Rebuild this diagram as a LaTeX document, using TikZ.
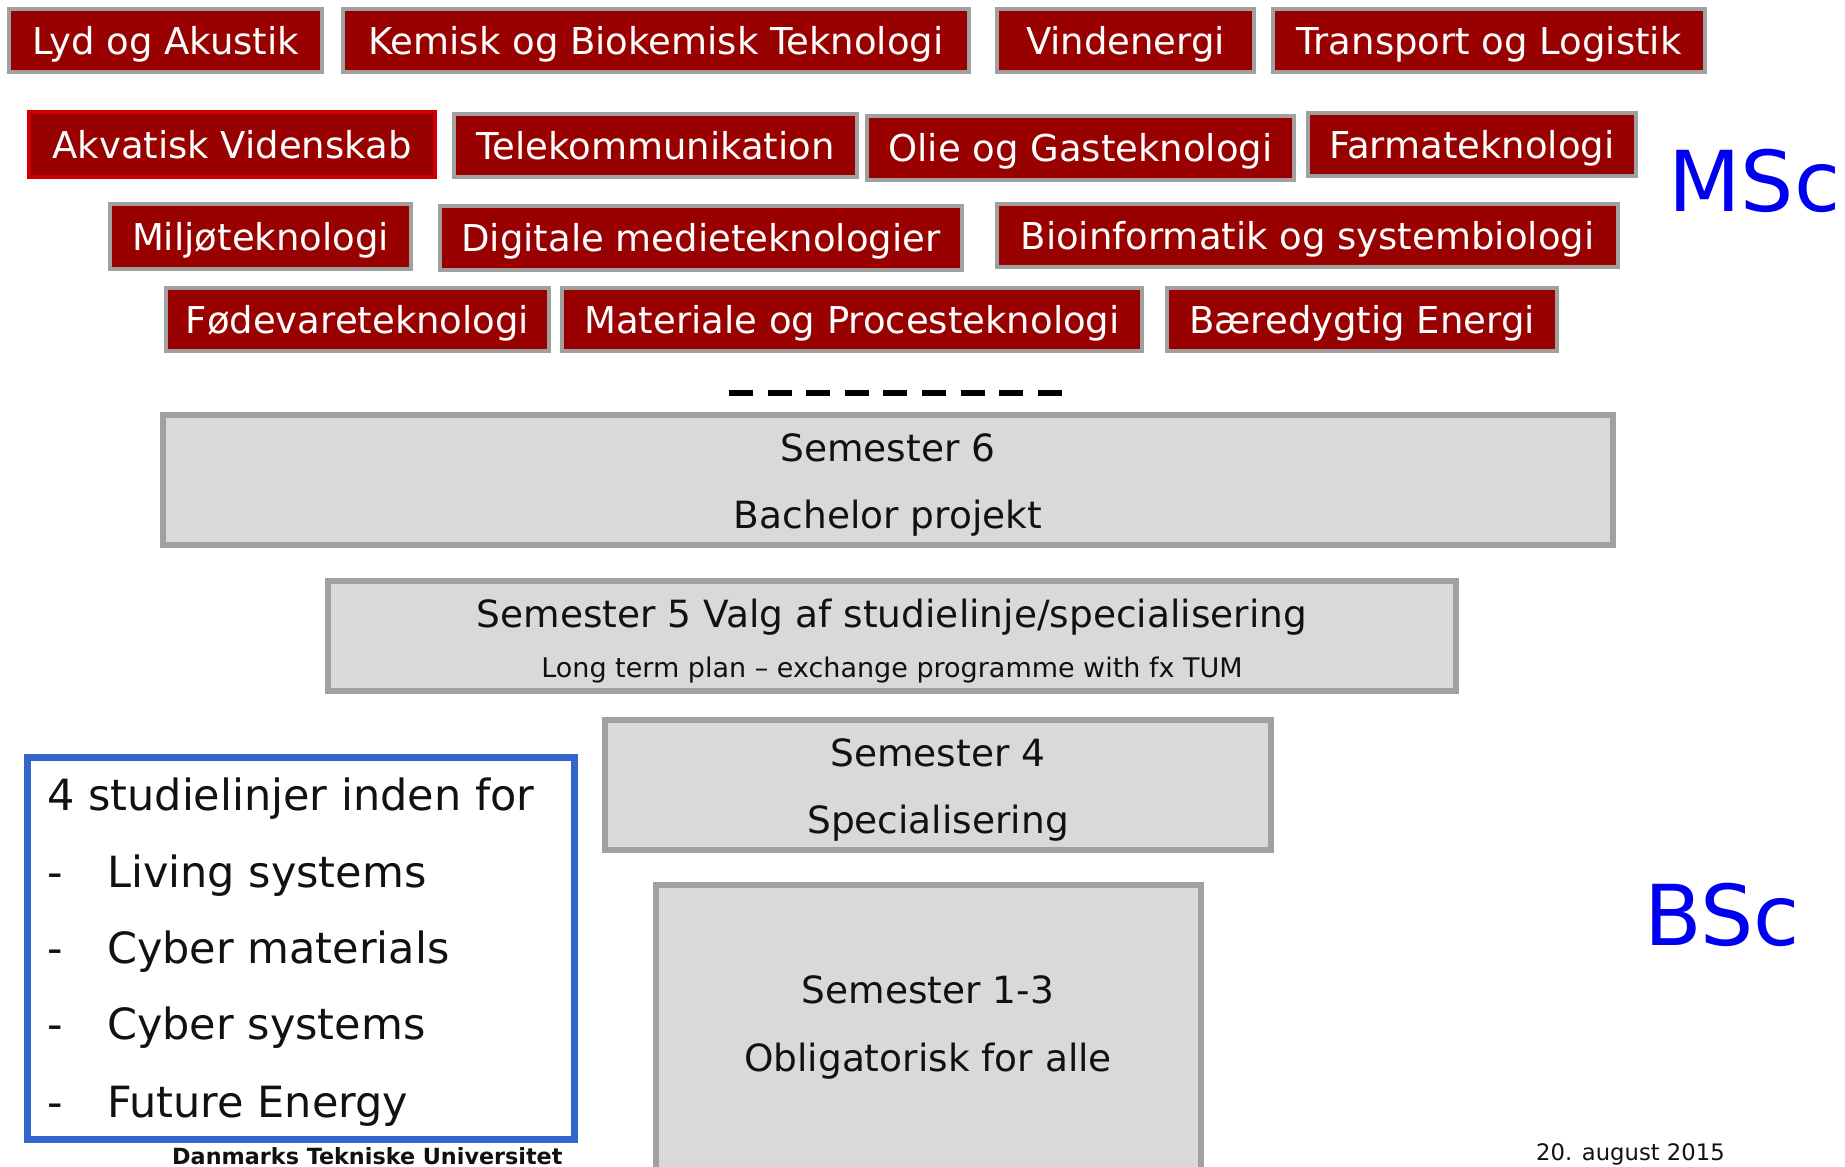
\documentclass[tikz,border=0pt]{standalone}
\usepackage{fontspec}
\setmainfont{DejaVu Sans}
\definecolor{dtured}{HTML}{990000}
\definecolor{akvared}{HTML}{CC0000}
\definecolor{boxgray}{HTML}{A0A0A0}
\definecolor{semfill}{HTML}{D9D9D9}
\definecolor{bluebd}{HTML}{3366CC}
\definecolor{degblue}{HTML}{0000F0}
\definecolor{inkdark}{HTML}{111111}
\tikzset{
  redbox/.style={draw=boxgray, line width=4pt, fill=dtured, text=white,
    font=\fontsize{37}{40}\selectfont, text height=27pt, text depth=0pt, inner sep=0pt},
  akvabox/.style={redbox, draw=akvared},
  sembox/.style={draw=boxgray, line width=6pt, fill=semfill, inner sep=0pt},
  listbox/.style={draw=bluebd, line width=7pt, fill=white, inner sep=0pt},
  semtext/.style={text=inkdark, font=\fontsize{37.5}{40}\selectfont, text height=27pt, text depth=0pt, inner sep=0pt},
  semsmall/.style={text=inkdark, font=\fontsize{27}{30}\selectfont, text height=19.7pt, text depth=0pt, inner sep=0pt},
  listtext/.style={text=inkdark, font=\fontsize{43}{46}\selectfont, anchor=base west, inner sep=0pt},
  degree/.style={text=degblue, font=\fontsize{84}{90}\selectfont, anchor=base west, inner sep=0pt},
  foot/.style={text=inkdark, anchor=base west, inner sep=0pt},
  dashline/.style={draw=black, line width=6pt, dash pattern=on 24pt off 14.6pt}
}
% [line width]{style}{name}{x1}{y1}{x2}{y2}{text}
\newcommand\placebox[8][4]{%
  \node[#2, minimum width={#6-#4-#1}, minimum height={#7-#5-#1}] (#3)
    at ({(#4+#6)/2},{(#5+#7)/2}) {#8};}
\begin{document}
\begin{tikzpicture}[x=1pt, y=-1pt]
\useasboundingbox (0,0) rectangle (1845,1167);
\clip (0,0) rectangle (1845,1167);
% row 1
\placebox{redbox}{lyd}{7}{7}{324}{74}{Lyd og Akustik}
\placebox{redbox}{kemi}{341}{7}{971}{74}{Kemisk og Biokemisk Teknologi}
\placebox{redbox}{vind}{995}{7}{1256}{74}{Vindenergi}
\placebox{redbox}{trans}{1271}{7}{1707}{74}{Transport og Logistik}
% row 2
\placebox{akvabox}{akva}{27}{110}{437}{179}{Akvatisk Videnskab}
\placebox{redbox}{tele}{452}{112}{859}{179}{Telekommunikation}
\placebox{redbox}{olie}{865}{114}{1296}{182}{Olie og Gasteknologi}
\placebox{redbox}{farma}{1306}{111}{1638}{178}{Farmateknologi}
% row 3
\placebox{redbox}{milj}{108}{202}{413}{271}{Miljøteknologi}
\placebox{redbox}{digi}{438}{204}{964}{272}{Digitale medieteknologier}
\placebox{redbox}{bioi}{995}{202}{1620}{269}{Bioinformatik og systembiologi}
% row 4
\placebox{redbox}{fode}{164}{286}{551}{353}{Fødevareteknologi}
\placebox{redbox}{mate}{560}{286}{1144}{353}{Materiale og Procesteknologi}
\placebox{redbox}{baer}{1165}{286}{1559}{353}{Bæredygtig Energi}
% degree labels
\node[degree] (msc) at (1668,211) {MSc};
\node[degree] (bsc) at (1644,945) {BSc};
% dashed separator
\coordinate (dA) at (729,393);
\coordinate (dB) at (1063,393);
\draw[dashline] (dA) -- (dB);
% semesters
\placebox[6]{sembox}{s6}{160}{412}{1616}{548}{}
\node[semtext] (s6a) at (888,448) {Semester 6};
\node[semtext] (s6b) at (888,515) {Bachelor projekt};
\placebox[6]{sembox}{s5}{325}{578}{1459}{694}{}
\node[semtext] (s5a) at (892,614) {Semester 5 Valg af studielinje/specialisering};
\node[semsmall] (s5b) at (892,668) {Long term plan – exchange programme with fx TUM};
\placebox[6]{sembox}{s4}{602}{717}{1274}{853}{}
\node[semtext] (s4a) at (938,753) {Semester 4};
\node[semtext] (s4b) at (938,820) {Specialisering};
\placebox[6]{sembox}{s13}{653}{882}{1204}{1185}{}
\node[semtext] (s13a) at (928,990) {Semester 1-3};
\node[semtext] (s13b) at (928,1058) {Obligatorisk for alle};
% study lines box
\placebox[7]{listbox}{lines}{24}{754}{578}{1143}{}
\node[listtext] (l0) at (47,810) {4 studielinjer inden for};
\node[listtext] (d1) at (47,887) {-};
\node[listtext] (l1) at (107,887) {Living systems};
\node[listtext] (d2) at (47,963) {-};
\node[listtext] (l2) at (107,963) {Cyber materials};
\node[listtext] (d3) at (47,1039) {-};
\node[listtext] (l3) at (107,1039) {Cyber systems};
\node[listtext] (d4) at (47,1117) {-};
\node[listtext] (l4) at (107,1117) {Future Energy};
% footer
\node[foot, font=\bfseries\fontsize{22.3}{24}\selectfont] (dtu) at (172,1164) {Danmarks Tekniske Universitet};
\node[foot, font=\fontsize{22.7}{24}\selectfont] (date) at (1536,1160) {20. august 2015};
\end{tikzpicture}
\end{document}
